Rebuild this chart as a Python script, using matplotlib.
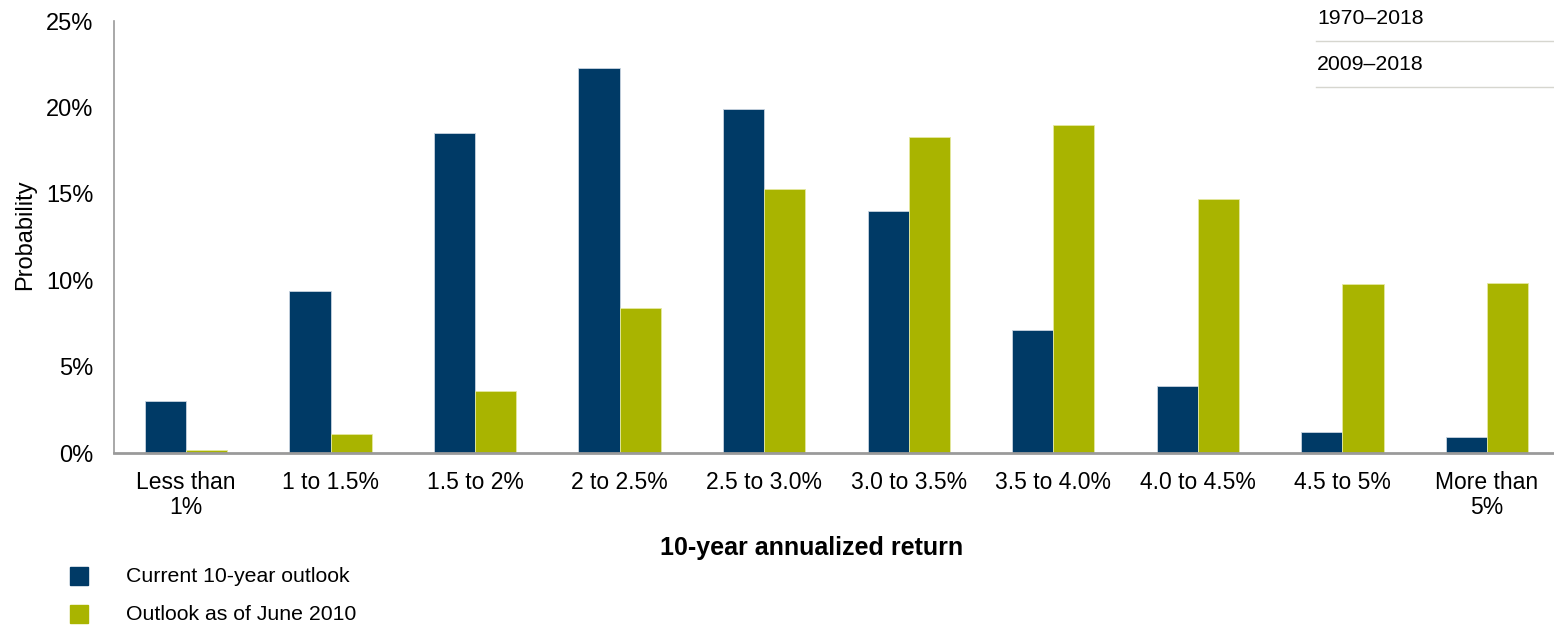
import matplotlib
matplotlib.use("Agg")
import matplotlib.pyplot as plt
from matplotlib.patches import Rectangle
from matplotlib.lines import Line2D
import numpy as np

categories = ["Less than\n1%", "1 to 1.5%", "1.5 to 2%", "2 to 2.5%", "2.5 to 3.0%",
              "3.0 to 3.5%", "3.5 to 4.0%", "4.0 to 4.5%", "4.5 to 5%", "More than\n5%"]
current = [3.0, 9.4, 18.5, 22.3, 19.9, 14.0, 7.1, 3.9, 1.2, 0.9]
june2010 = [0.2, 1.1, 3.6, 8.4, 15.3, 18.3, 19.0, 14.7, 9.8, 9.85]
yticks = [0, 5, 10, 15, 20, 25]
ytick_labels = ["0%", "5%", "10%", "15%", "20%", "25%"]
series_names = ["Current 10-year outlook", "Outlook as of June 2010"]
period_labels = ["1970\u20132018", "2009\u20132018"]

BLUE = "#003A66"
GREEN = "#A9B400"
W, H = 1554, 626

plt.rcParams['font.family'] = ['Liberation Sans', 'DejaVu Sans']
fig = plt.figure(figsize=(W / 100, H / 100), dpi=100)
ax = fig.add_axes([114 / W, 1 - 453 / H, (W - 114) / W, (453 - 21) / H])

x = np.arange(len(categories))
bw = 0.285
ax.bar(x - bw / 2, current, width=bw, color=BLUE, edgecolor="#c8d4e0", linewidth=0.6)
ax.bar(x + bw / 2, june2010, width=bw, color=GREEN, edgecolor="#e4e8a0", linewidth=0.6)

ax.set_xlim(-0.498, 9.464)
ax.set_ylim(0, 25)
ax.set_yticks(yticks)
ax.set_yticklabels(ytick_labels, fontsize=17)
ax.set_xticks(x)
ax.set_xticklabels(categories, fontsize=16.5, linespacing=1.12)
ax.tick_params(axis='both', length=0)
ax.tick_params(axis='y', pad=15)
ax.tick_params(axis='x', pad=13)
for s in ["top", "right"]:
    ax.spines[s].set_visible(False)
ax.spines["left"].set_color("#9a9a9a")
ax.spines["left"].set_linewidth(1.2)
ax.spines["bottom"].set_color("#9a9a9a")
ax.spines["bottom"].set_linewidth(2.0)

fig.text(25 / W, 1 - 235 / H, "Probability", rotation=90, fontsize=17,
         ha="center", va="center")
fig.text(812 / W, 1 - 548 / H, "10-year annualized return", fontsize=18,
         fontweight="bold", ha="center", va="center")

# legend
for i, (name, col) in enumerate(zip(series_names, [BLUE, GREEN])):
    yc = 576 + i * 38
    fig.patches.append(Rectangle((70 / W, 1 - (yc + 9) / H), 18 / W, 18 / H,
                                 transform=fig.transFigure, color=col))
    fig.text(126 / W, 1 - yc / H, name, fontsize=15.3, ha="left", va="center")

# top-right period labels
for i, lab in enumerate(period_labels):
    yc = 19 + i * 46
    fig.text(1317 / W, 1 - yc / H, lab, fontsize=15.3, ha="left", va="center")
    fig.add_artist(Line2D([1316 / W, 1554 / W], [1 - (yc + 22) / H, 1 - (yc + 22) / H],
                          transform=fig.transFigure, color="#d6d6cf", linewidth=1))

fig.savefig("out.png", dpi=100, facecolor="white")
